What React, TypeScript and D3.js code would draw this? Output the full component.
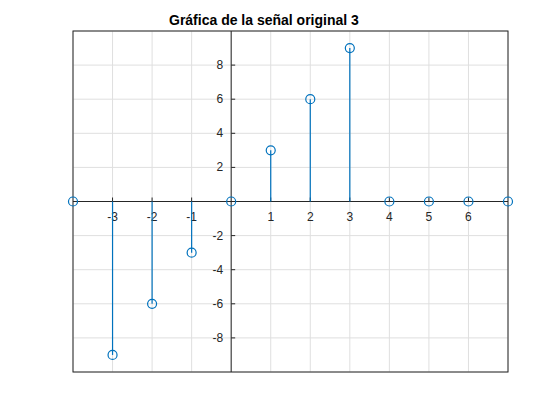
import React from "react";
import * as d3 from "d3";

const nValues = [-4, -3, -2, -1, 0, 1, 2, 3, 4, 5, 6, 7];
const signalValues = [0, -9, -6, -3, 0, 3, 6, 9, 0, 0, 0, 0];
const xTicks = [-3, -2, -1, 1, 2, 3, 4, 5, 6];
const yTicks = [-8, -6, -4, -2, 2, 4, 6, 8];
const xGrid = d3.range(-4, 8);
const yGrid = [-10, -8, -6, -4, -2, 0, 2, 4, 6, 8, 10];

export default function App() {
  const width = 560;
  const height = 420;
  const margin = { top: 31, right: 52, bottom: 48, left: 73 };
  const x = d3.scaleLinear().domain([-4, 7]).range([margin.left, width - margin.right]);
  const y = d3.scaleLinear().domain([-10, 10]).range([height - margin.bottom, margin.top]);
  const blue = "#0072BD";
  const font = "Helvetica, Arial, 'Liberation Sans', sans-serif";

  return (
    <svg width={width} height={height} style={{ position: "absolute", left: 0, top: 0, background: "#fff" }}>
      <rect x={0} y={0} width={width} height={height} fill="#fff" />
      {/* grid */}
      {xGrid.map((t) => (
        <line key={"gx" + t} x1={x(t)} x2={x(t)} y1={y(-10)} y2={y(10)} stroke="#dfdfdf" />
      ))}
      {yGrid.map((t) => (
        <line key={"gy" + t} x1={x(-4)} x2={x(7)} y1={y(t)} y2={y(t)} stroke="#dfdfdf" />
      ))}
      <rect x={x(-4)} y={y(10)} width={x(7) - x(-4)} height={y(-10) - y(10)} fill="none" stroke="#262626" />
      {/* axes at origin */}
      <line x1={x(-4)} x2={x(7)} y1={y(0)} y2={y(0)} stroke="#262626" />
      <line x1={x(0)} x2={x(0)} y1={y(-10)} y2={y(10)} stroke="#262626" />
      {xTicks.map((t) => (
        <g key={"xt" + t}>
          <line x1={x(t)} x2={x(t)} y1={y(0)} y2={y(0) - 4} stroke="#262626" />
          <text x={x(t)} y={y(0) + 19} textAnchor="middle" fontSize={12} fontFamily={font} fill="#262626">
            {t}
          </text>
        </g>
      ))}
      {yTicks.map((t) => (
        <g key={"yt" + t}>
          <line x1={x(0)} x2={x(0) + 4} y1={y(t)} y2={y(t)} stroke="#262626" />
          <text x={x(0) - 8} y={y(t) + 4} textAnchor="end" fontSize={12} fontFamily={font} fill="#262626">
            {t}
          </text>
        </g>
      ))}
      {/* stems */}
      {nValues.map((n, i) => (
        <g key={"s" + n}>
          <line x1={x(n)} x2={x(n)} y1={y(0)} y2={y(signalValues[i])} stroke={blue} strokeWidth={1.2} />
          <circle cx={x(n)} cy={y(signalValues[i])} r={4.5} fill="none" stroke={blue} strokeWidth={1.2} />
        </g>
      ))}
      <text x={169} y={25} fontSize={14} fontWeight="bold" fontFamily={font} fill="#000">
        Gráfica de la señal original 3
      </text>
    </svg>
  );
}
